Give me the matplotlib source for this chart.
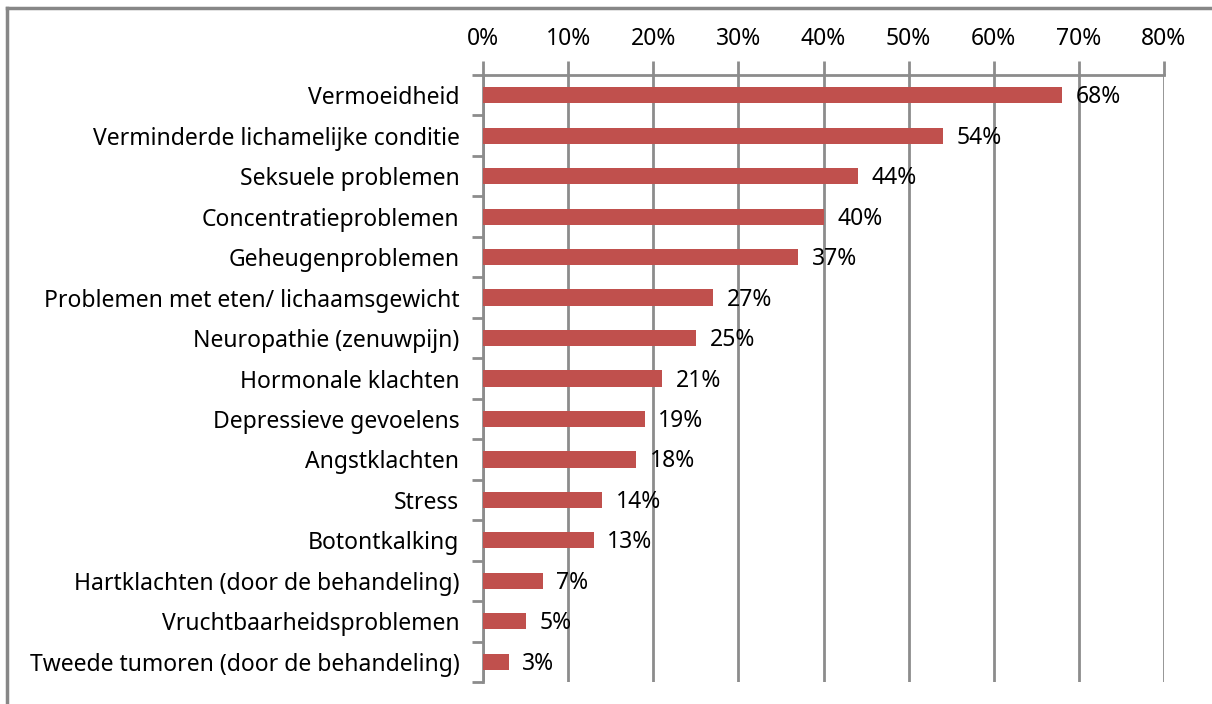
import matplotlib
matplotlib.use("Agg")
import matplotlib.pyplot as plt
from matplotlib.lines import Line2D

categories = [
    "Vermoeidheid",
    "Verminderde lichamelijke conditie",
    "Seksuele problemen",
    "Concentratieproblemen",
    "Geheugenproblemen",
    "Problemen met eten/ lichaamsgewicht",
    "Neuropathie (zenuwpijn)",
    "Hormonale klachten",
    "Depressieve gevoelens",
    "Angstklachten",
    "Stress",
    "Botontkalking",
    "Hartklachten (door de behandeling)",
    "Vruchtbaarheidsproblemen",
    "Tweede tumoren (door de behandeling)",
]
values = [68, 54, 44, 40, 37, 27, 25, 21, 19, 18, 14, 13, 7, 5, 3]
xticks = [0, 10, 20, 30, 40, 50, 60, 70, 80]

plt.rcParams['font.family'] = ['Noto Sans', 'DejaVu Sans']
grid_color = "#8c8c8c"
bar_color = "#C0504D"
fs = 16.5

fig = plt.figure(figsize=(12.12, 7.04), dpi=100)
ax = fig.add_axes([483 / 1212, 1 - 682 / 704, (1164 - 483) / 1212, (682 - 75) / 704])

y = list(range(len(categories)))
ax.barh(y, values, height=0.4, color=bar_color, zorder=3)
for yi, v in zip(y, values):
    ax.text(v + 1.6, yi + 0.05, f"{v}%", va="center", ha="left", fontsize=fs, zorder=4)

ax.set_xlim(0, 80)
ax.set_ylim(len(categories) - 0.5, -0.5)
ax.xaxis.tick_top()
ax.set_xticks(xticks)
ax.set_xticklabels([f"{t}%" for t in xticks], fontsize=fs)
ax.set_yticks(y)
ax.set_yticklabels(categories, fontsize=fs)
ax.tick_params(axis="y", length=0, pad=17)
ax.set_yticks([i - 0.5 for i in range(len(categories) + 1)], minor=True)
ax.tick_params(axis="y", which="minor", length=8, width=2, color=grid_color)
ax.tick_params(axis="x", length=10, width=2, color=grid_color, pad=7)
ax.grid(axis="x", color=grid_color, linewidth=2, zorder=1)
for side in ["right", "bottom"]:
    ax.spines[side].set_visible(False)
for side in ["left", "top"]:
    ax.spines[side].set_color(grid_color)
    ax.spines[side].set_linewidth(2)

# outer chart border (left and top visible)
fig.add_artist(Line2D([7 / 1212, 7 / 1212], [0, 1 - 8 / 704], color="#878787", linewidth=2.5))
fig.add_artist(Line2D([7 / 1212, 1], [1 - 8 / 704, 1 - 8 / 704], color="#878787", linewidth=2.5))

fig.savefig("out.png", dpi=100)
